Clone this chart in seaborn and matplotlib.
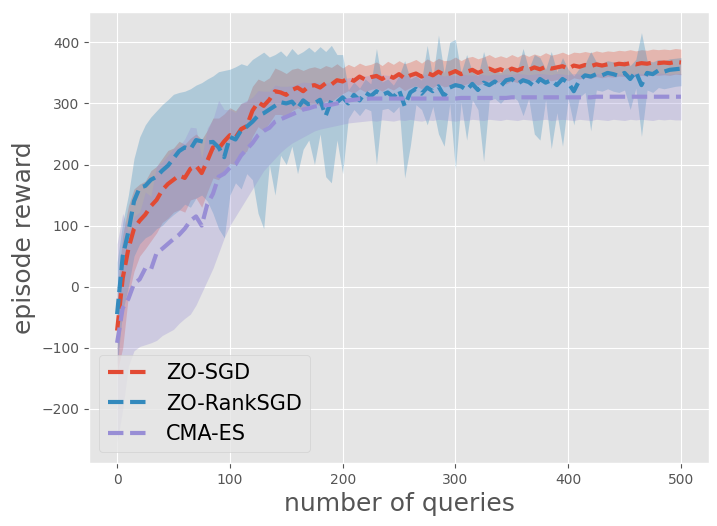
import numpy as np
import pandas as pd
import matplotlib
matplotlib.use("Agg")
import matplotlib.pyplot as plt
import seaborn as sns

# ---------------- data ----------------
queries = list(range(0, 501, 5))

methods = ["ZO-SGD", "ZO-RankSGD", "CMA-ES"]

zo_sgd_mean = [-72, 14, 62, 95, 108, 118, 132, 142, 158, 168, 175, 182, 178, 193, 198, 186, 206, 228, 226, 238,
               248, 244, 258, 263, 288, 302, 296, 306, 320, 318, 314, 322, 326, 320, 328, 330, 326, 333, 331, 338,
               336, 341, 337, 344, 339, 343, 345, 340, 346, 342, 348, 341, 346, 349, 344, 350, 346, 352, 347, 349,
               353, 348, 352, 355, 350, 354, 357, 353, 356, 352, 357, 354, 358, 355, 359, 356, 360, 357, 359, 361,
               357, 362, 360, 363, 361, 364, 362, 364, 363, 365, 364, 366, 364, 366, 365, 367, 366, 367, 366, 368, 367]
zo_sgd_upper = [-10, 84, 132, 160, 168, 173, 190, 197, 210, 223, 227, 238, 233, 243, 250, 241, 256, 276, 276, 283,
                293, 288, 300, 303, 328, 340, 336, 342, 358, 354, 349, 356, 358, 354, 358, 360, 357, 362, 359, 365,
                358, 364, 360, 366, 362, 364, 368, 362, 369, 364, 370, 365, 368, 372, 366, 373, 368, 374, 370, 371,
                376, 370, 375, 377, 373, 376, 380, 375, 378, 375, 380, 376, 381, 377, 381, 378, 383, 379, 381, 384,
                380, 384, 383, 385, 383, 386, 384, 386, 385, 387, 386, 388, 386, 388, 387, 389, 388, 389, 388, 390, 389]
zo_sgd_lower = [-140, -100, -15, 25, 50, 62, 75, 88, 105, 112, 122, 126, 122, 142, 145, 130, 155, 178, 175, 192,
                202, 200, 215, 222, 246, 262, 255, 268, 282, 282, 278, 288, 293, 288, 298, 300, 296, 304, 303, 310,
                316, 321, 317, 324, 319, 323, 325, 320, 326, 322, 328, 321, 326, 329, 324, 330, 326, 332, 327, 329,
                333, 328, 332, 335, 330, 334, 337, 333, 336, 332, 337, 334, 338, 335, 339, 336, 340, 337, 339, 341,
                337, 342, 340, 343, 341, 344, 342, 344, 343, 345, 344, 346, 344, 346, 345, 347, 346, 347, 346, 348, 347]

rank_mean = [-45, 50, 90, 140, 162, 165, 175, 180, 190, 198, 210, 222, 228, 225, 240, 238, 236, 237, 228, 212,
             245, 241, 256, 262, 270, 280, 284, 290, 296, 302, 300, 303, 292, 305, 298, 300, 306, 280, 305, 302,
             310, 300, 314, 305, 318, 312, 320, 314, 318, 310, 322, 296, 318, 324, 316, 326, 320, 328, 312, 326,
             330, 328, 322, 332, 322, 334, 330, 336, 328, 338, 340, 332, 338, 335, 328, 340, 334, 338, 330, 340,
             334, 320, 338, 346, 344, 348, 346, 350, 348, 345, 350, 340, 352, 330, 350, 348, 354, 352, 355, 356, 357]
rank_upper = [40, 105, 150, 210, 245, 265, 278, 288, 298, 306, 315, 318, 320, 324, 330, 334, 340, 345, 352, 354,
              356, 360, 365, 362, 372, 378, 384, 376, 380, 386, 377, 390, 380, 385, 392, 384, 393, 385, 395, 380,
              380, 322, 335, 325, 340, 332, 390, 335, 340, 330, 345, 370, 340, 345, 338, 395, 342, 412, 350, 400,
              405, 350, 380, 352, 345, 385, 352, 356, 350, 358, 360, 355, 390, 356, 380, 375, 356, 385, 352, 375,
              356, 345, 358, 365, 385, 368, 366, 370, 368, 365, 370, 362, 372, 416, 370, 368, 372, 370, 373, 374, 375]
rank_lower = [-130, -40, 0, 50, 70, 80, 85, 95, 100, 110, 118, 125, 135, 130, 145, 150, 140, 120, 95, 80,
              150, 170, 160, 185, 175, 120, 95, 200, 150, 215, 200, 230, 185, 225, 240, 200, 250, 180, 170, 240,
              185, 275, 290, 280, 292, 288, 200, 290, 292, 285, 295, 178, 230, 298, 290, 265, 295, 250, 230, 300,
              192, 302, 240, 306, 290, 205, 305, 308, 300, 310, 312, 305, 280, 308, 250, 240, 306, 226, 285, 230,
              308, 265, 310, 318, 255, 322, 320, 324, 320, 318, 322, 290, 325, 246, 322, 318, 326, 324, 326, 328, 329]

cma_mean = [-92, -35, -20, 5, 12, 30, 28, 55, 62, 70, 78, 85, 95, 108, 115, 100, 135, 152, 180, 185,
            195, 200, 215, 225, 235, 248, 255, 260, 270, 274, 278, 282, 286, 290, 292, 295, 296, 297, 298, 300,
            303, 305, 306, 307, 307, 308, 308, 308, 308, 308, 308, 308, 308, 308, 308, 308, 308, 308, 308, 308,
            308, 309, 309, 309, 309, 309, 309, 309, 309, 309, 310, 310, 310, 310, 310, 310, 310, 310, 310, 310,
            310, 310, 310, 310, 310, 311, 311, 311, 311, 311, 311, 311, 311, 311, 311, 311, 311, 311, 311, 311, 311]
cma_upper = [70, 120, 90, 115, 122, 155, 148, 198, 204, 215, 226, 230, 242, 261, 260, 210, 260, 274, 305, 290,
             290, 285, 300, 305, 310, 321, 320, 320, 330, 328, 328, 329, 332, 335, 334, 335, 334, 334, 334, 336,
             340, 342, 343, 344, 345, 346, 345, 347, 346, 345, 347, 346, 345, 347, 346, 348, 346, 347, 345, 347,
             346, 348, 347, 346, 348, 347, 346, 348, 347, 348, 347, 349, 348, 347, 348, 349, 348, 347, 349, 348,
             347, 349, 348, 349, 348, 349, 348, 349, 350, 348, 349, 348, 350, 349, 348, 349, 350, 349, 348, 349, 349]
cma_lower = [-255, -200, -130, -105, -98, -95, -92, -88, -80, -75, -70, -60, -52, -45, -30, -10, 10, 30, 55, 80,
             100, 115, 130, 145, 160, 175, 190, 200, 210, 220, 228, 235, 240, 245, 250, 255, 258, 260, 262, 264,
             266, 268, 269, 270, 271, 272, 271, 273, 272, 271, 273, 272, 274, 272, 271, 273, 272, 274, 273, 272,
             271, 273, 272, 274, 273, 272, 274, 273, 272, 274, 273, 272, 274, 273, 272, 273, 274, 272, 273, 274,
             273, 272, 274, 273, 272, 274, 273, 272, 274, 273, 272, 274, 273, 274, 273, 272, 274, 273, 274, 273, 273]

means = [zo_sgd_mean, rank_mean, cma_mean]
uppers = [zo_sgd_upper, rank_upper, cma_upper]
lowers = [zo_sgd_lower, rank_lower, cma_lower]

# ---------------- plot ----------------
plt.style.use("ggplot")
fig = plt.figure(figsize=(7.17, 5.26), dpi=100)
ax = fig.add_axes([0.124, 0.120, 0.865, 0.857])

colors = ["#E24A33", "#348ABD", "#988ED5"]
for name, m, up, lo, c in zip(methods, means, uppers, lowers, colors):
    df = pd.DataFrame({"queries": queries, "reward": m})
    sns.lineplot(data=df, x="queries", y="reward", ax=ax, color=c, linestyle="--",
                 linewidth=3, label=name)
    ax.fill_between(queries, lo, up, color=c, alpha=0.3, linewidth=0)

ax.set_xlabel("number of queries", fontsize=18)
ax.set_ylabel("episode reward", fontsize=18)
ax.legend(loc="lower left", fontsize=15)

fig.savefig("out.png", dpi=100)
